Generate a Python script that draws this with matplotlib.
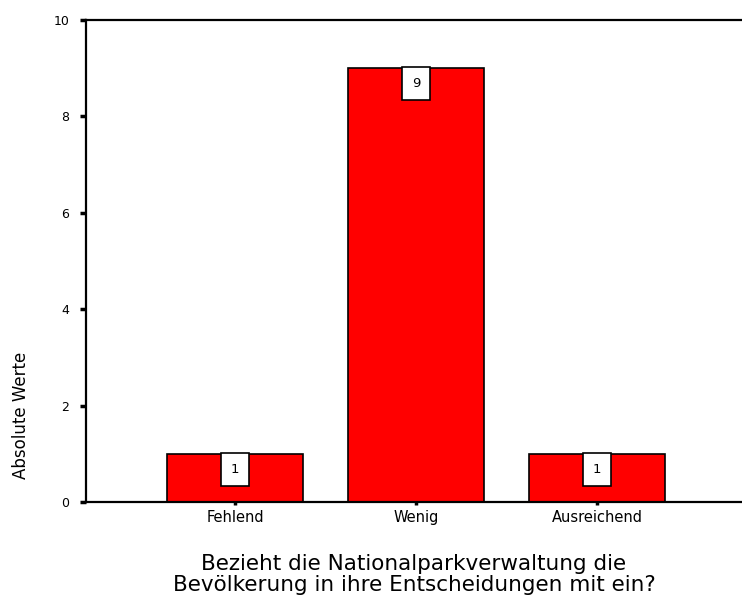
import matplotlib.pyplot as plt

categories = ['Fehlend', 'Wenig', 'Ausreichend']
counts = [1, 9, 1]
y_ticks = [0, 2, 4, 6, 8, 10]

plt.rcParams['font.family'] = ['DejaVu Sans']

fig = plt.figure(figsize=(7.42, 5.99), dpi=100)
ax = fig.add_axes([0.1159, 0.1619, 0.8841, 0.8047])

x = range(len(categories))
ax.bar(x, counts, width=0.75, color='#ff0000', edgecolor='black', linewidth=1.2)

# value boxes hanging from the top of each bar
for xi, v in zip(x, counts):
    ax.annotate(str(v), xy=(xi, v), xytext=(0, -6.5), textcoords='offset points',
                ha='center', va='top', fontsize=9.5,
                bbox=dict(boxstyle='square,pad=0.75', fc='white', ec='black', lw=1.2))

ax.set_xlim(-0.824, 2.8)
ax.set_ylim(0, 10)
ax.set_yticks(y_ticks)
ax.set_xticks(list(x))
ax.set_xticklabels(categories, fontsize=10.5)
ax.tick_params(axis='y', labelsize=9, length=4, width=2.5, pad=8)
ax.tick_params(axis='x', length=2.5, width=2.5, pad=3)

for side in ['left', 'top', 'bottom']:
    ax.spines[side].set_linewidth(1.6)
ax.spines['right'].set_visible(False)

ax.set_ylabel('Absolute Werte', fontsize=12)
ax.yaxis.set_label_coords(-0.086, 0.18)
ax.set_xlabel('Bezieht die Nationalparkverwaltung die\nBevölkerung in ihre Entscheidungen mit ein?',
              fontsize=15.5, labelpad=21, linespacing=1.05)

fig.savefig('out.png', dpi=100)
